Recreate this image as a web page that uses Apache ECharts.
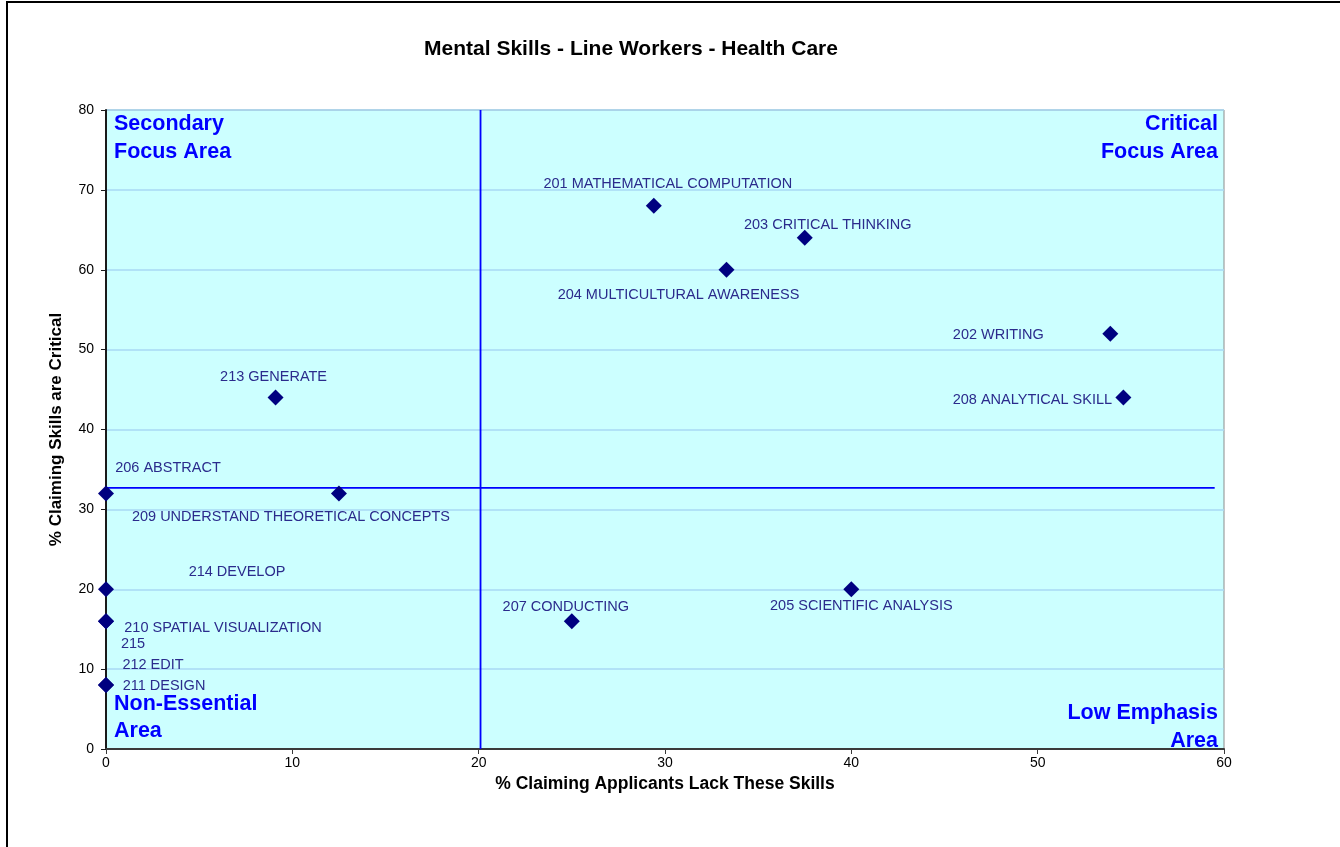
<!DOCTYPE html>
<html>
<head>
<meta charset="utf-8">
<title>Mental Skills - Line Workers - Health Care</title>
<script src="https://cdn.jsdelivr.net/npm/echarts@6/dist/echarts.min.js"></script>
<style>
    html, body {
        margin: 0;
        padding: 0;
        background: #ffffff;
    }

    #chart {
        width: 1340px;
        height: 847px;
    }
</style>
</head>
<body>
<div id="chart"></div>
<script>
// skills, % lacking (x) and % critical (y)
const skillNames = [
    '201 MATHEMATICAL COMPUTATION',
    '203 CRITICAL THINKING',
    '204 MULTICULTURAL AWARENESS',
    '202 WRITING',
    '208 ANALYTICAL SKILL',
    '213 GENERATE',
    '206 ABSTRACT',
    '209 UNDERSTAND THEORETICAL CONCEPTS',
    '214 DEVELOP',
    '210 SPATIAL VISUALIZATION',
    '215',
    '212 EDIT',
    '211 DESIGN',
    '207 CONDUCTING',
    '205 SCIENTIFIC ANALYSIS'
]
const lackPct = [29.4, 37.5, 33.3, 53.9, 54.6, 9.1, 0, 12.5, 0, 0, 0, 0, 0, 25, 40]
const criticalPct = [68, 64, 60, 52, 44, 44, 32, 32, 20, 16, 16, 8, 8, 16, 20]

// quadrant split lines
const splitX = 20.1
const splitY = 32.7
const xMax = 60
const yMax = 80
const xTicks = [0, 10, 20, 30, 40, 50, 60]
const yTicks = [0, 10, 20, 30, 40, 50, 60, 70, 80]

// label placement (pixel offset from the marker), same order as skillNames
const labelOffsets = [
    [14, -22], [23, -13], [-48, 25], [-112, 1], [-91, 2],
    [-2, -21], [62, -25], [-48, 24], [131, -17], [117, 7],
    [27, 23], [47, -20], [58, 1], [-6, -14], [10, 17]
]

const chartDom = document.getElementById('chart')
const myChart = echarts.init(chartDom, null, { renderer: 'canvas' })

let points = []
skillNames.forEach((name, i) => {
    points.push({
        name: name,
        value: [lackPct[i], criticalPct[i]],
        label: { offset: labelOffsets[i] }
    })
})

function quadLabel(text, x, y, align) {
    return {
        type: 'text',
        x: x,
        y: y,
        z: 10,
        silent: true,
        style: {
            text: text,
            fontFamily: 'Arial',
            fontWeight: 'bold',
            fontSize: 21.5,
            fill: '#0000ff',
            align: align,
            verticalAlign: 'middle'
        }
    }
}

myChart.setOption({
    backgroundColor: '#ffffff',
    animation: false,
    textStyle: {
        fontFamily: 'Arial, "Liberation Sans", sans-serif'
    },
    title: {
        text: 'Mental Skills - Line Workers - Health Care',
        left: 626,
        top: 34,
        textAlign: 'center',
        textStyle: {
            fontSize: 21,
            fontWeight: 'bold',
            color: '#000000'
        }
    },
    grid: {
        left: 106,
        right: 116,
        top: 110,
        bottom: 98,
        show: true,
        backgroundColor: '#ccffff',
        borderColor: '#8c8c8c',
        borderWidth: 1
    },
    xAxis: {
        type: 'value',
        min: 0,
        max: xMax,
        interval: xTicks[1] - xTicks[0],
        name: '% Claiming Applicants Lack These Skills',
        nameLocation: 'middle',
        nameGap: 24,
        nameTextStyle: {
            fontSize: 17.5,
            fontWeight: 'bold',
            color: '#000000'
        },
        axisLine: { show: true, lineStyle: { color: '#3a3a3a', width: 2 } },
        axisTick: { show: true, inside: false, length: 5, lineStyle: { color: '#3a3a3a' } },
        axisLabel: { fontSize: 14, color: '#000000', margin: 7 },
        splitLine: { show: false }
    },
    yAxis: {
        type: 'value',
        min: 0,
        max: yMax,
        interval: yTicks[1] - yTicks[0],
        name: '% Claiming Skills are Critical',
        nameLocation: 'middle',
        nameGap: 41,
        nameTextStyle: {
            fontSize: 17,
            fontWeight: 'bold',
            color: '#000000'
        },
        axisLine: { show: true, lineStyle: { color: '#1a1a1a', width: 2 } },
        axisTick: { show: true, inside: false, length: 5, lineStyle: { color: '#1a1a1a' } },
        axisLabel: { fontSize: 14, color: '#000000', margin: 12 },
        splitLine: { show: true, lineStyle: { color: '#a8d8f4', width: 1.5 } }
    },
    series: [
        {
            type: 'line',
            data: [[splitX, 0], [splitX, yMax]],
            symbol: 'none',
            silent: true,
            z: 2,
            lineStyle: { color: '#0000ff', width: 1.8 }
        },
        {
            type: 'line',
            data: [[0, splitY], [59.5, splitY]],
            symbol: 'none',
            silent: true,
            z: 2,
            lineStyle: { color: '#0000ff', width: 1.8 }
        },
        {
            type: 'scatter',
            data: points,
            symbol: 'diamond',
            symbolSize: 16,
            z: 5,
            itemStyle: { color: '#000080', opacity: 1 },
            label: {
                show: true,
                position: 'inside',
                formatter: '{b}',
                fontSize: 14.5,
                color: '#2b2b8c'
            }
        }
    ],
    graphic: [
        {
            type: 'rect',
            shape: { x: 7, y: 2, width: 1400, height: 900 },
            style: { fill: 'none', stroke: '#000000', lineWidth: 2 },
            silent: true
        },
        quadLabel('Secondary', 114, 124, 'left'),
        quadLabel('Focus Area', 114, 152, 'left'),
        quadLabel('Critical', 1218, 124, 'right'),
        quadLabel('Focus Area', 1218, 152, 'right'),
        quadLabel('Non-Essential', 114, 704, 'left'),
        quadLabel('Area', 114, 731, 'left'),
        quadLabel('Low Emphasis', 1218, 713, 'right'),
        quadLabel('Area', 1218, 741, 'right')
    ]
})
</script>
</body>
</html>
